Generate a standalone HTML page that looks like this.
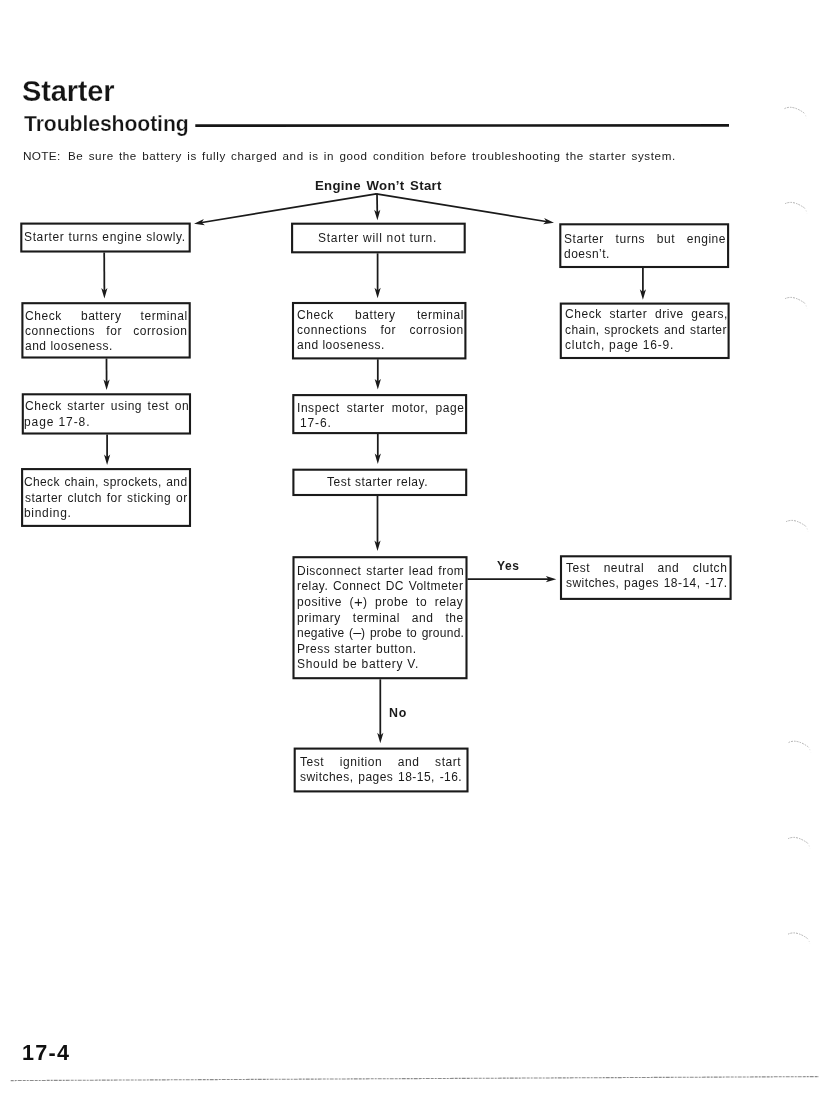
<!DOCTYPE html>
<html><head><meta charset="utf-8"><style>
html,body{margin:0;padding:0;background:#fff;}
body{width:839px;height:1106px;position:relative;overflow:hidden;font-family:"Liberation Sans",sans-serif;color:#1a1a1a;}
.t{position:absolute;white-space:nowrap;will-change:transform;}
.j{text-align:justify;text-align-last:justify;white-space:normal;}
svg{position:absolute;left:0;top:0;}
.pl{font-size:15px;line-height:0;margin:0 -0.3px 0 -0.1px;vertical-align:-0.6px;}
.mi{font-size:14.5px;line-height:0;margin:0 -0.4px 0 -0.2px;vertical-align:-0.3px;}
</style></head><body>
<svg width="839" height="1106" viewBox="0 0 839 1106">
<rect x="21.30" y="223.60" width="168.40" height="27.90" fill="none" stroke="#1a1a1a" stroke-width="2.1"/>
<rect x="22.40" y="303.20" width="167.30" height="54.30" fill="none" stroke="#1a1a1a" stroke-width="2.1"/>
<rect x="22.80" y="394.30" width="167.20" height="39.20" fill="none" stroke="#1a1a1a" stroke-width="2.1"/>
<rect x="22.10" y="469.10" width="167.90" height="56.80" fill="none" stroke="#1a1a1a" stroke-width="2.1"/>
<rect x="292.10" y="223.70" width="172.60" height="28.60" fill="none" stroke="#1a1a1a" stroke-width="2.1"/>
<rect x="293.00" y="303.00" width="172.40" height="55.40" fill="none" stroke="#1a1a1a" stroke-width="2.1"/>
<rect x="293.30" y="395.10" width="172.80" height="38.00" fill="none" stroke="#1a1a1a" stroke-width="2.1"/>
<rect x="293.40" y="469.70" width="172.80" height="25.30" fill="none" stroke="#1a1a1a" stroke-width="2.1"/>
<rect x="293.50" y="557.20" width="173.00" height="121.00" fill="none" stroke="#1a1a1a" stroke-width="2.1"/>
<rect x="294.70" y="748.60" width="172.80" height="42.80" fill="none" stroke="#1a1a1a" stroke-width="2.1"/>
<rect x="560.30" y="224.30" width="167.80" height="42.70" fill="none" stroke="#1a1a1a" stroke-width="2.1"/>
<rect x="560.80" y="303.60" width="167.80" height="54.40" fill="none" stroke="#1a1a1a" stroke-width="2.1"/>
<rect x="561.00" y="556.30" width="169.60" height="42.60" fill="none" stroke="#1a1a1a" stroke-width="2.1"/>
<line x1="376.30" y1="193.80" x2="198.93" y2="222.99" stroke="#1a1a1a" stroke-width="1.75"/>
<polygon points="194.00,223.80 203.86,219.04 201.70,222.53 204.86,225.15" fill="#1a1a1a"/>
<line x1="376.30" y1="193.80" x2="549.07" y2="221.99" stroke="#1a1a1a" stroke-width="1.75"/>
<polygon points="554.00,222.80 543.14,224.17 546.30,221.54 544.14,218.05" fill="#1a1a1a"/>
<line x1="377.00" y1="193.80" x2="377.32" y2="215.30" stroke="#1a1a1a" stroke-width="1.75"/>
<polygon points="377.40,220.30 374.14,209.85 377.28,212.50 380.34,209.75" fill="#1a1a1a"/>
<line x1="375.30" y1="194.10" x2="377.30" y2="194.10" stroke="#1a1a1a" stroke-width="1.6"/>
<line x1="104.20" y1="252.50" x2="104.38" y2="293.60" stroke="#1a1a1a" stroke-width="1.75"/>
<polygon points="104.40,298.60 101.25,288.11 104.37,290.80 107.45,288.09" fill="#1a1a1a"/>
<line x1="106.50" y1="358.50" x2="106.58" y2="385.00" stroke="#1a1a1a" stroke-width="1.75"/>
<polygon points="106.60,390.00 103.47,379.51 106.58,382.20 109.67,379.49" fill="#1a1a1a"/>
<line x1="107.10" y1="434.50" x2="107.10" y2="460.00" stroke="#1a1a1a" stroke-width="1.75"/>
<polygon points="107.10,465.00 104.00,454.50 107.10,457.20 110.20,454.50" fill="#1a1a1a"/>
<line x1="377.60" y1="253.30" x2="377.60" y2="293.30" stroke="#1a1a1a" stroke-width="1.75"/>
<polygon points="377.60,298.30 374.50,287.80 377.60,290.50 380.70,287.80" fill="#1a1a1a"/>
<line x1="377.80" y1="359.30" x2="377.80" y2="384.40" stroke="#1a1a1a" stroke-width="1.75"/>
<polygon points="377.80,389.40 374.70,378.90 377.80,381.60 380.90,378.90" fill="#1a1a1a"/>
<line x1="377.80" y1="434.00" x2="377.80" y2="459.00" stroke="#1a1a1a" stroke-width="1.75"/>
<polygon points="377.80,464.00 374.70,453.50 377.80,456.20 380.90,453.50" fill="#1a1a1a"/>
<line x1="377.50" y1="496.00" x2="377.50" y2="546.10" stroke="#1a1a1a" stroke-width="1.75"/>
<polygon points="377.50,551.10 374.40,540.60 377.50,543.30 380.60,540.60" fill="#1a1a1a"/>
<line x1="380.30" y1="679.30" x2="380.30" y2="738.30" stroke="#1a1a1a" stroke-width="1.75"/>
<polygon points="380.30,743.30 377.20,732.80 380.30,735.50 383.40,732.80" fill="#1a1a1a"/>
<line x1="642.90" y1="268.00" x2="642.90" y2="294.80" stroke="#1a1a1a" stroke-width="1.75"/>
<polygon points="642.90,299.80 639.80,289.30 642.90,292.00 646.00,289.30" fill="#1a1a1a"/>
<line x1="467.50" y1="579.20" x2="551.30" y2="579.20" stroke="#1a1a1a" stroke-width="1.75"/>
<polygon points="556.30,579.20 545.80,582.30 548.50,579.20 545.80,576.10" fill="#1a1a1a"/>
<line x1="195.30" y1="125.60" x2="729.00" y2="125.40" stroke="#161616" stroke-width="2.6"/>
<line x1="10.7" y1="1080.6" x2="819" y2="1076.6" stroke="#8c8c8c" stroke-width="1.1" stroke-dasharray="3 1 2 1 4 1"/>
<path d="M784.5,108.60000000000001 Q792.5,104.60000000000001 804.0,112.9" fill="none" stroke="#b0b0b0" stroke-width="1" stroke-dasharray="1.5 1 2 1.2"/>
<path d="M804.0,112.9 Q805.5,114.4 806.5,118.4" fill="none" stroke="#d8d8d8" stroke-width="1" stroke-dasharray="1 2"/>
<path d="M785,203.7 Q793,199.7 804.5,208.0" fill="none" stroke="#b0b0b0" stroke-width="1" stroke-dasharray="1.5 1 2 1.2"/>
<path d="M804.5,208.0 Q806,209.5 807,213.5" fill="none" stroke="#d8d8d8" stroke-width="1" stroke-dasharray="1 2"/>
<path d="M785,298.7 Q793,294.7 804.5,303.0" fill="none" stroke="#b0b0b0" stroke-width="1" stroke-dasharray="1.5 1 2 1.2"/>
<path d="M804.5,303.0 Q806,304.5 807,308.5" fill="none" stroke="#d8d8d8" stroke-width="1" stroke-dasharray="1 2"/>
<path d="M786,521.7 Q794,517.7 805.5,526.0" fill="none" stroke="#b0b0b0" stroke-width="1" stroke-dasharray="1.5 1 2 1.2"/>
<path d="M805.5,526.0 Q807,527.5 808,531.5" fill="none" stroke="#d8d8d8" stroke-width="1" stroke-dasharray="1 2"/>
<path d="M788.6,742.5 Q796.6,738.5 808.1,746.8" fill="none" stroke="#b0b0b0" stroke-width="1" stroke-dasharray="1.5 1 2 1.2"/>
<path d="M808.1,746.8 Q809.6,748.3 810.6,752.3" fill="none" stroke="#d8d8d8" stroke-width="1" stroke-dasharray="1 2"/>
<path d="M788,838.7 Q796,834.7 807.5,843.0" fill="none" stroke="#b0b0b0" stroke-width="1" stroke-dasharray="1.5 1 2 1.2"/>
<path d="M807.5,843.0 Q809,844.5 810,848.5" fill="none" stroke="#d8d8d8" stroke-width="1" stroke-dasharray="1 2"/>
<path d="M788,934.2 Q796,930.2 807.5,938.5" fill="none" stroke="#b0b0b0" stroke-width="1" stroke-dasharray="1.5 1 2 1.2"/>
<path d="M807.5,938.5 Q809,940 810,944" fill="none" stroke="#d8d8d8" stroke-width="1" stroke-dasharray="1 2"/>
</svg>
<div class="t" style="left:21.62px;top:73.65px;font-size:29px;line-height:34.8px;letter-spacing:-0.140px;font-weight:bold;color:#141414;-webkit-text-stroke:0.25px #fff;">Starter</div>
<div class="t" style="left:23.99px;top:111.43px;font-size:21.2px;line-height:25.44px;letter-spacing:-0.089px;font-weight:bold;color:#141414;-webkit-text-stroke:0.25px #fff;">Troubleshooting</div>
<div class="t" style="left:23.26px;top:149.03px;font-size:11.8px;line-height:14.16px;letter-spacing:0.306px;">NOTE:</div>
<div class="t" style="left:67.87px;top:149.22px;font-size:11.6px;line-height:13.92px;letter-spacing:0.620px;word-spacing:1.411px;">Be sure the battery is fully charged and is in good condition before troubleshooting the starter system.</div>
<div class="t" style="left:315.21px;top:177.51px;font-size:13.2px;line-height:15.84px;letter-spacing:0.320px;font-weight:bold;word-spacing:1.636px;">Engine Won’t Start</div>
<div class="t" style="left:24.32px;top:230.09px;font-size:12.0px;line-height:14.4px;letter-spacing:0.640px;">Starter turns engine slowly.</div>
<div class="t" style="left:24.90px;top:308.79px;font-size:12.0px;line-height:14.4px;letter-spacing:0.550px;word-spacing:15.275px;">Check battery terminal</div>
<div class="t" style="left:25.02px;top:323.99px;font-size:12.0px;line-height:14.4px;letter-spacing:0.550px;word-spacing:7.343px;">connections for corrosion</div>
<div class="t" style="left:25.02px;top:339.19px;font-size:12.0px;line-height:14.4px;letter-spacing:0.508px;">and looseness.</div>
<div class="t" style="left:24.60px;top:399.19px;font-size:12.0px;line-height:14.4px;letter-spacing:0.550px;word-spacing:1.635px;">Check starter using test on</div>
<div class="t" style="left:24.48px;top:414.79px;font-size:12.0px;line-height:14.4px;letter-spacing:0.899px;">page 17-8.</div>
<div class="t" style="left:24.20px;top:475.29px;font-size:12.0px;line-height:14.4px;letter-spacing:0.359px;word-spacing:1.000px;">Check chain, sprockets, and</div>
<div class="t" style="left:24.56px;top:490.79px;font-size:12.0px;line-height:14.4px;letter-spacing:0.511px;word-spacing:1.000px;">starter clutch for sticking or</div>
<div class="t" style="left:24.08px;top:506.29px;font-size:12.0px;line-height:14.4px;letter-spacing:0.691px;">binding.</div>
<div class="t" style="left:318.32px;top:230.99px;font-size:12.0px;line-height:14.4px;letter-spacing:0.713px;">Starter will not turn.</div>
<div class="t" style="left:296.50px;top:307.69px;font-size:12.0px;line-height:14.4px;letter-spacing:0.550px;word-spacing:17.425px;">Check battery terminal</div>
<div class="t" style="left:296.62px;top:322.89px;font-size:12.0px;line-height:14.4px;letter-spacing:0.550px;word-spacing:9.493px;">connections for corrosion</div>
<div class="t" style="left:296.62px;top:338.09px;font-size:12.0px;line-height:14.4px;letter-spacing:0.516px;">and looseness.</div>
<div class="t" style="left:296.62px;top:400.69px;font-size:12.0px;line-height:14.4px;letter-spacing:0.550px;word-spacing:3.258px;">Inspect starter motor, page</div>
<div class="t" style="left:299.86px;top:415.59px;font-size:12.0px;line-height:14.4px;letter-spacing:0.861px;">17-6.</div>
<div class="t" style="left:327.16px;top:475.39px;font-size:12.0px;line-height:14.4px;letter-spacing:0.520px;">Test starter relay.</div>
<div class="t" style="left:296.94px;top:563.89px;font-size:12.0px;line-height:14.4px;letter-spacing:0.510px;word-spacing:1.000px;">Disconnect starter lead from</div>
<div class="t" style="left:297.18px;top:579.46px;font-size:12.0px;line-height:14.4px;letter-spacing:0.454px;word-spacing:1.000px;">relay. Connect DC Voltmeter</div>
<div class="t" style="left:297.18px;top:595.03px;font-size:12.0px;line-height:14.4px;letter-spacing:0.550px;word-spacing:3.609px;">positive (<span class="pl">+</span>) probe to relay</div>
<div class="t" style="left:297.18px;top:610.59px;font-size:12.0px;line-height:14.4px;letter-spacing:0.550px;word-spacing:8.072px;">primary terminal and the</div>
<div class="t" style="left:297.18px;top:626.16px;font-size:12.0px;line-height:14.4px;letter-spacing:0.261px;word-spacing:1.000px;">negative (<span class="mi">–</span>) probe to ground.</div>
<div class="t" style="left:296.94px;top:641.73px;font-size:12.0px;line-height:14.4px;letter-spacing:0.548px;">Press starter button.</div>
<div class="t" style="left:297.42px;top:657.29px;font-size:12.0px;line-height:14.4px;letter-spacing:0.716px;">Should be battery V.</div>
<div class="t" style="left:389.06px;top:706.26px;font-size:12.4px;line-height:14.88px;letter-spacing:0.897px;font-weight:bold;">No</div>
<div class="t" style="left:299.96px;top:754.59px;font-size:12.0px;line-height:14.4px;letter-spacing:0.550px;word-spacing:11.706px;">Test ignition and start</div>
<div class="t" style="left:299.96px;top:769.79px;font-size:12.0px;line-height:14.4px;letter-spacing:0.459px;word-spacing:1.000px;">switches, pages 18-15, -16.</div>
<div class="t" style="left:563.72px;top:232.29px;font-size:12.0px;line-height:14.4px;letter-spacing:0.550px;word-spacing:7.819px;">Starter turns but engine</div>
<div class="t" style="left:563.72px;top:247.19px;font-size:12.0px;line-height:14.4px;letter-spacing:0.472px;">doesn’t.</div>
<div class="t" style="left:564.60px;top:307.39px;font-size:12.0px;line-height:14.4px;letter-spacing:0.550px;word-spacing:3.773px;">Check starter drive gears,</div>
<div class="t" style="left:564.72px;top:322.89px;font-size:12.0px;line-height:14.4px;letter-spacing:0.409px;word-spacing:1.000px;">chain, sprockets and starter</div>
<div class="t" style="left:564.72px;top:338.39px;font-size:12.0px;line-height:14.4px;letter-spacing:0.755px;">clutch, page 16-9.</div>
<div class="t" style="left:496.78px;top:558.54px;font-size:12.0px;line-height:14.4px;letter-spacing:0.582px;font-weight:bold;">Yes</div>
<div class="t" style="left:565.86px;top:560.89px;font-size:12.0px;line-height:14.4px;letter-spacing:0.550px;word-spacing:9.548px;">Test neutral and clutch</div>
<div class="t" style="left:565.86px;top:576.39px;font-size:12.0px;line-height:14.4px;letter-spacing:0.440px;word-spacing:1.000px;">switches, pages 18-14, -17.</div>
<div class="t" style="left:22.10px;top:1039.76px;font-size:21.6px;line-height:25.92px;letter-spacing:1.227px;font-weight:bold;color:#101010;">17-4</div>
</body></html>
